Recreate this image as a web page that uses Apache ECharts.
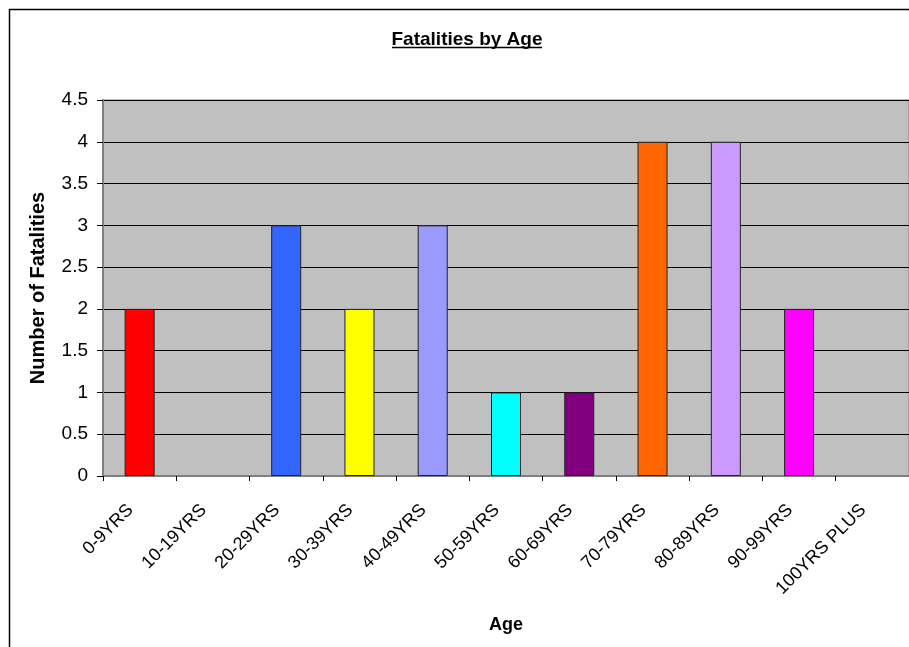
<!DOCTYPE html>
<html>
<head>
<meta charset="utf-8">
<script src="https://cdn.jsdelivr.net/npm/echarts@6/dist/echarts.min.js"></script>
<style>
  html, body { margin: 0; padding: 0; background: #fff; }
  #chart { width: 909px; height: 647px; }
</style>
</head>
<body>
<div id="chart"></div>
<script>
var ageGroups = ['0-9YRS', '10-19YRS', '20-29YRS', '30-39YRS', '40-49YRS', '50-59YRS',
                 '60-69YRS', '70-79YRS', '80-89YRS', '90-99YRS', '100YRS PLUS'];
var fatalities = [2, 0, 3, 2, 3, 1, 1, 4, 4, 2, 0];
var barColors = ['#FF0000', '#FF0000', '#3366FF', '#FFFF00', '#9999FF', '#00FFFF',
                 '#800080', '#FF6600', '#CC99FF', '#FF00FF', '#FF00FF'];

var fontFamily = 'Liberation Sans, Arial, sans-serif';
var dom = document.getElementById('chart');
var myChart = echarts.init(dom);

var option = {
    backgroundColor: '#fff',
    animation: false,
    textStyle: { fontFamily: fontFamily },
    graphic: [
        // outer chart border (runs off the right/bottom of the picture)
        { type: 'rect', shape: { x: 9.5, y: 9.5, width: 1000, height: 1000 },
          style: { fill: 'none', stroke: '#000', lineWidth: 1.5 }, silent: true },
        // title, underlined like the original
        { type: 'text', x: 467, y: 40,
          style: { text: 'Fatalities by Age', align: 'center', verticalAlign: 'middle',
                   font: 'bold 19px ' + fontFamily, fill: '#000' } },
        { type: 'line', shape: { x1: 392, y1: 47.5, x2: 542, y2: 47.5 },
          style: { stroke: '#000', lineWidth: 1.5 }, silent: true }
    ],
    grid: {
        left: 103,
        top: 100,
        width: 808,
        bottom: 171,
        show: true,
        backgroundColor: '#C0C0C0',
        borderColor: '#808080',
        borderWidth: 1
    },
    xAxis: {
        type: 'category',
        data: ageGroups,
        name: 'Age',
        nameLocation: 'middle',
        nameGap: 140,
        nameTextStyle: { fontSize: 18, fontWeight: 'bold', color: '#000' },
        axisLine: { lineStyle: { color: '#808080', width: 2 } },
        axisTick: { show: true, length: 5, lineStyle: { color: '#000' } },
        axisLabel: { rotate: 45, fontSize: 18, color: '#000', margin: 22,
                     padding: [0, 13, 0, 0], interval: 0 },
        splitLine: { show: false }
    },
    yAxis: {
        type: 'value',
        min: 0,
        max: 4.5,
        interval: 0.5,
        name: 'Number of Fatalities',
        nameLocation: 'middle',
        nameGap: 55,
        nameTextStyle: { fontSize: 20, fontWeight: 'bold', color: '#000' },
        axisLine: { show: true, lineStyle: { color: '#808080', width: 2 } },
        axisTick: { show: true, length: 6, lineStyle: { color: '#000' } },
        axisLabel: { fontSize: 19, color: '#000', margin: 15 },
        splitLine: { show: true, lineStyle: { color: '#000', width: 1 } }
    },
    series: [{
        type: 'bar',
        data: fatalities.map(function (v, i) {
            return { value: v, itemStyle: { color: barColors[i], borderWidth: v ? 1 : 0 } };
        }),
        barWidth: 30,
        itemStyle: { borderColor: '#222' }
    }]
};

myChart.setOption(option);
</script>
</body>
</html>
